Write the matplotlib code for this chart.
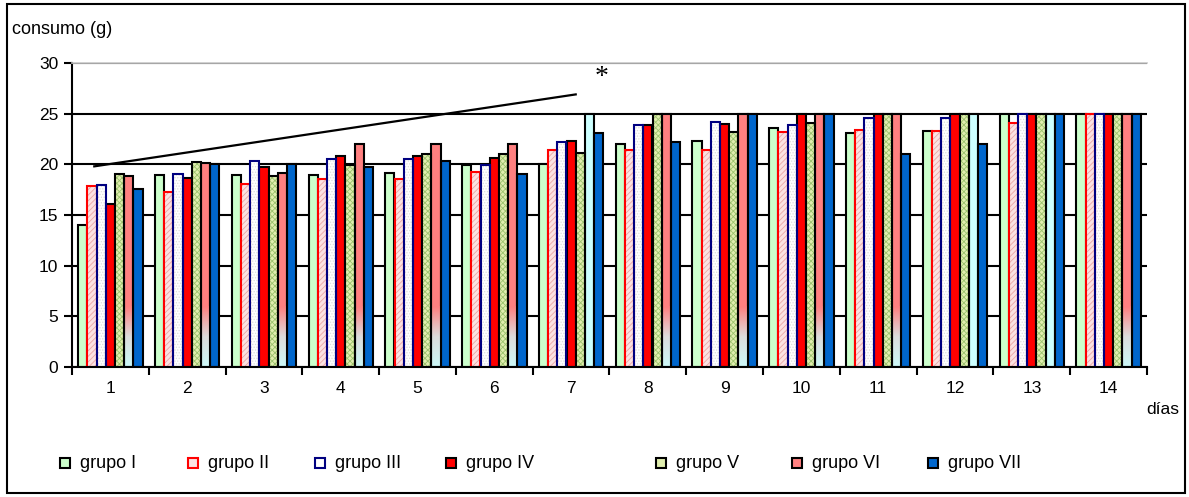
import numpy as np
import matplotlib
matplotlib.use('Agg')
import matplotlib.pyplot as plt
from matplotlib.patches import Rectangle
from matplotlib.colors import LinearSegmentedColormap

plt.rcParams['font.family'] = ['Liberation Sans', 'DejaVu Sans']
plt.rcParams['hatch.linewidth'] = 0.6

W, H = 1189, 497

days = [str(d) for d in range(1, 15)]
groups = ['grupo I', 'grupo II', 'grupo III', 'grupo IV',
          'grupo V', 'grupo VI', 'grupo VII']

grupo_1 = [14.0, 18.9, 18.9, 18.9, 19.1, 19.9, 20.0, 22.0, 22.3, 23.6, 23.1, 23.3, 25.0, 25.0]
grupo_2 = [17.9, 17.3, 18.1, 18.6, 18.6, 19.2, 21.4, 21.4, 21.4, 23.2, 23.4, 23.3, 24.1, 25.0]
grupo_3 = [18.0, 19.0, 20.3, 20.5, 20.5, 19.9, 22.2, 23.9, 24.2, 23.9, 24.6, 24.6, 25.0, 25.0]
grupo_4 = [16.1, 18.7, 19.7, 20.8, 20.8, 20.6, 22.3, 23.9, 24.0, 25.0, 25.0, 25.0, 25.0, 25.0]
grupo_5 = [19.0, 20.2, 18.8, 19.9, 21.0, 21.0, 21.1, 25.0, 23.2, 24.1, 25.0, 25.0, 25.0, 25.0]
grupo_6 = [18.8, 20.1, 19.1, 22.0, 22.0, 22.0, 25.0, 25.0, 25.0, 25.0, 25.0, 25.0, 25.0, 25.0]
grupo_7 = [17.6, 20.0, 20.0, 19.7, 20.3, 19.0, 23.1, 22.2, 25.0, 25.0, 21.0, 22.0, 25.0, 25.0]
series = [grupo_1, grupo_2, grupo_3, grupo_4, grupo_5, grupo_6, grupo_7]

# days where the grupo VI bar came out flat cyan instead of the gradient
flat_vi_days = [7, 12, 13]

# trend line and its marker, in (day index, consumo) units
trend_x = [-0.21, 6.06]
trend_y = [19.8, 26.9]
star_pos = (6.40, 28.6)

styles = [
    dict(face='#CCFFCC', hatch=None, hc=None, edge='black'),
    dict(face='#FBE2E2', hatch='//////', hc='#E9A6A6', edge='#FF0000'),
    dict(face='white', hatch='......', hc='#DDDDDD', edge='#000080'),
    dict(face='#FF0000', hatch=None, hc=None, edge='black'),
    dict(face='#E0EEAE', hatch='xxxxxx', hc='#9CC26E', edge='black'),
    dict(face='#FF8080', hatch=None, hc=None, edge='black'),
    dict(face='#0066CC', hatch=None, hc=None, edge='black'),
]

grad_cmap = LinearSegmentedColormap.from_list('vi', ['#CCF8F8', '#DCDCDC', '#FF8080'])
grad = np.linspace(0, 1, 64).reshape(-1, 1)

fig = plt.figure(figsize=(W / 100, H / 100), dpi=100)
ax = fig.add_axes([72 / W, 1 - 367 / H, (1147 - 72) / W, (367 - 63) / H])

x = np.arange(len(days))
bw = 0.12
lw = 1.5

for j, (vals, st) in enumerate(zip(series, styles)):
    pos = x + (j - 3) * bw
    if j == 5:
        for d, (p, v) in enumerate(zip(pos, vals)):
            if d + 1 in flat_vi_days:
                ax.bar(p, v, bw, color='#CCFFFF', edgecolor='black', linewidth=lw, zorder=2)
            else:
                ax.bar(p, v, bw, color=st['face'], linewidth=0, zorder=2)
                ax.imshow(grad, origin='lower', cmap=grad_cmap, aspect='auto',
                          extent=(p - bw / 2, p + bw / 2, 0, min(v, 6.0)), zorder=2.1)
                ax.bar(p, v, bw, fill=False, edgecolor='black', linewidth=lw, zorder=2.2)
        continue
    if st['hatch']:
        ax.bar(pos, vals, bw, color=st['face'], hatch=st['hatch'],
               edgecolor=st['hc'], linewidth=0, zorder=2)
        ax.bar(pos, vals, bw, fill=False, edgecolor=st['edge'], linewidth=lw, zorder=2.2)
    else:
        ax.bar(pos, vals, bw, color=st['face'], edgecolor=st['edge'], linewidth=lw, zorder=2)

ax.plot(trend_x, trend_y, color='black', lw=1.6, zorder=3)
ax.text(star_pos[0], star_pos[1], '*', fontsize=20, family='Liberation Serif',
        ha='center', va='center')

ax.set_xlim(-0.5, len(days) - 0.5)
ax.set_ylim(0, 30)
ax.set_yticks(range(0, 31, 5))
ax.yaxis.grid(True, color='black', lw=1.5)
ax.set_axisbelow(True)

ax.set_xticks(np.arange(-0.5, len(days)), labels=[])
ax.set_xticks(x, labels=days, minor=True)
ax.tick_params(axis='x', which='major', length=6, width=1.5, direction='out')
ax.tick_params(axis='x', which='minor', length=0, pad=10, labelsize=12.5)
ax.tick_params(axis='y', length=6, width=1.5, direction='out', labelsize=12.5, pad=4)

for s in ['left', 'bottom']:
    ax.spines[s].set_linewidth(1.5)
ax.spines['right'].set_visible(False)
ax.spines['top'].set_color('#C8C8C8')
ax.spines['top'].set_linewidth(1.2)

fig.text(12 / W, 1 - 30 / H, 'consumo (g)', fontsize=13, ha='left', va='center')
fig.text(1163 / W, 1 - 409 / H, 'días', fontsize=12.5, ha='center', va='center')

# legend row
leg_x = [60, 188, 315, 446, 656, 792, 928]
sq = 10
for lx, name, st in zip(leg_x, groups, styles):
    box = Rectangle((lx / W, 1 - 468 / H), sq / W, sq / H, transform=fig.transFigure,
                    facecolor=st['face'], edgecolor=st['edge'], linewidth=1.5)
    fig.add_artist(box)
    fig.text((lx + 20) / W, 1 - 463 / H, name, fontsize=13, ha='left', va='center')

fig.add_artist(Rectangle((7 / W, 1 - 493 / H), (1185 - 7) / W, (493 - 4) / H,
                         transform=fig.transFigure, fill=False, edgecolor='black', linewidth=1.5))

fig.savefig('out.png', dpi=100)
